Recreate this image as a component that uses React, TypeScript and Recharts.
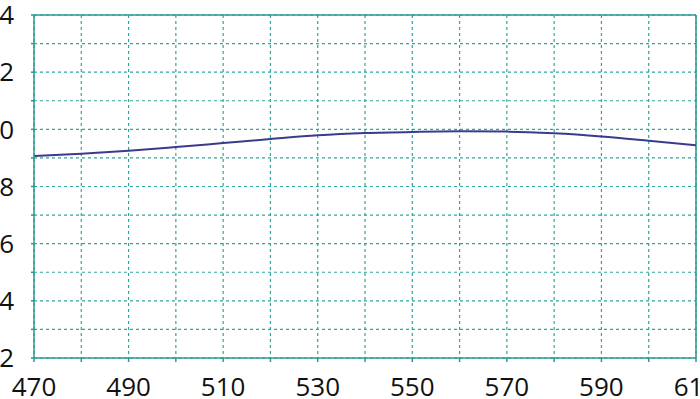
import React from "react";
import { LineChart, Line, XAxis, YAxis, CartesianGrid, ReferenceLine } from "recharts";

const wavelengths = [470, 480, 490, 500, 510, 520, 530, 540, 550, 560, 570, 580, 590, 600, 610];
const values = [0.907, 0.915, 0.925, 0.938, 0.952, 0.966, 0.979, 0.987, 0.991, 0.993, 0.992, 0.986, 0.975, 0.96, 0.944];
const xTicks = [470, 480, 490, 500, 510, 520, 530, 540, 550, 560, 570, 580, 590, 600, 610];
const yTicks = [0.2, 0.3, 0.4, 0.5, 0.6, 0.7, 0.8, 0.9, 1.0, 1.1, 1.2, 1.3, 1.4];

const data = wavelengths.map((w, i) => ({ w, v: values[i] }));

const GRID = "#2fa69c";
const AXIS = "#2a9a90";
const LINE = "#3b3b8e";
const FONT = "'Open Sans', 'Liberation Sans', sans-serif";

export default function App() {
  return (
    <div style={{ position: "fixed", left: 0, top: 0, width: 700, height: 399, overflow: "hidden", background: "#fff" }}>
      <div style={{ position: "absolute", left: -40, top: 0 }}>
        <LineChart width={780} height={399} data={data} margin={{ top: 15, right: 44, bottom: 0, left: 0 }}>
          <CartesianGrid stroke={GRID} strokeDasharray="3 3" strokeWidth={1.2} />
          <XAxis
            dataKey="w"
            type="number"
            domain={[470, 610]}
            ticks={xTicks}
            interval={0}
            height={41}
            tickSize={4}
            tickMargin={16}
            stroke={AXIS}
            strokeWidth={1.5}
            tick={{ fill: "#111", fontSize: 26, fontFamily: FONT }}
            tickFormatter={(v: number) => (Math.round(v) % 20 === 10 ? String(v) : "")}
          />
          <YAxis
            type="number"
            domain={[0.2, 1.4]}
            ticks={yTicks}
            interval={0}
            width={74}
            tickSize={3}
            tickMargin={17}
            stroke={AXIS}
            strokeWidth={1.5}
            tick={{ fill: "#111", fontSize: 26, fontFamily: FONT }}
            tickFormatter={(v: number) => (Math.round(v * 10) % 2 === 0 ? v.toFixed(1) : "")}
          />
          <ReferenceLine y={1.4} stroke={AXIS} strokeWidth={1.5} />
          <ReferenceLine x={610} stroke={AXIS} strokeWidth={1.5} />
          <Line type="monotone" dataKey="v" stroke={LINE} strokeWidth={2} dot={false} isAnimationActive={false} />
        </LineChart>
      </div>
    </div>
  );
}
